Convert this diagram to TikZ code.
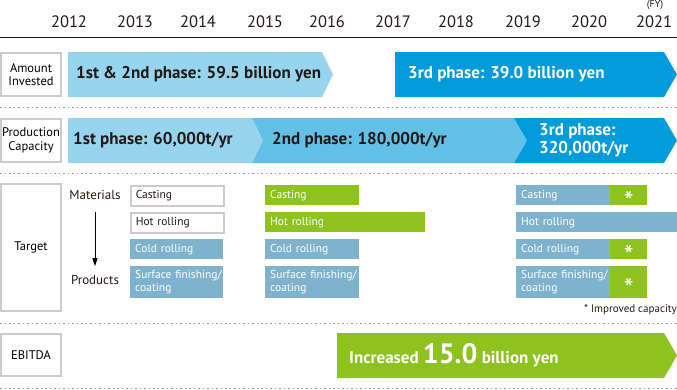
\documentclass[tikz,border=0pt]{standalone}
\usepackage{fontspec}
\setmainfont{PT Sans}
\usepackage{xcolor}
\usetikzlibrary{arrows.meta, positioning}
\definecolor{lightblue}{HTML}{97D5EF}
\definecolor{midblue}{HTML}{62C0E7}
\definecolor{darkblue}{HTML}{009BDB}
\definecolor{leafgreen}{HTML}{8DC21F}
\definecolor{steelblue}{HTML}{7FB3CD}
\definecolor{framegray}{HTML}{CCCCCC}
\definecolor{inkdark}{HTML}{231815}
\definecolor{dotgray}{HTML}{9A9A9A}
\tikzset{
  yearlabel/.style={font=\fontsize{16.5}{16.5}\selectfont, text=inkdark, inner sep=0pt},
  rowlabel/.style={rectangle, draw=framegray, line width=2.4pt, fill=white, align=center,
    minimum width=59.6pt, inner sep=0pt, font=\fontsize{12.5}{13.5}\selectfont, text=black},
  phasetext/.style={anchor=west, inner sep=0pt, align=left, font=\bfseries\fontsize{17}{18}\selectfont},
  sidelabel/.style={inner sep=0pt, font=\fontsize{13}{13}\selectfont, text=inkdark},
  cell/.style={rectangle, anchor=north west, inner xsep=5pt, inner ysep=0pt, align=left,
    font=\fontsize{11.5}{12.5}\selectfont},
  whitecell/.style={cell, draw=framegray, line width=1.6pt, fill=white, text=inkdark},
  bluecell/.style={cell, fill=steelblue, text=white},
  greencell/.style={cell, fill=leafgreen, text=white},
  starcell/.style={rectangle, anchor=north west, inner sep=0pt, fill=leafgreen, text=white,
    minimum width=37pt, font=\fontsize{28}{28}\selectfont},
  solidrule/.style={draw=inkdark, line width=1pt},
  dotrule/.style={draw=dotgray, line width=0.9pt, dash pattern=on 1.5pt off 3pt},
  downarrow/.style={-{Triangle[length=8pt, width=5pt]}, line width=1pt, black}
}
\newcommand{\surface}{\mbox{Surface finishing/}\\coating}
\newcommand{\improved}{\smash{\raisebox{-16.5pt}{*}}}

\begin{document}
\begin{tikzpicture}[x=1pt, y=-1pt]
  \useasboundingbox (0,0) rectangle (677,389);

  \node[yearlabel] (y2012) at (69,22) {2012};
  \node[yearlabel] (y2013) at (135,22) {2013};
  \node[yearlabel] (y2014) at (198,22) {2014};
  \node[yearlabel] (y2015) at (265,22) {2015};
  \node[yearlabel] (y2016) at (327,22) {2016};
  \node[yearlabel] (y2017) at (393,22) {2017};
  \node[yearlabel] (y2018) at (456,22) {2018};
  \node[yearlabel] (y2019) at (523,22) {2019};
  \node[yearlabel] (y2020) at (589,22) {2020};
  \node[yearlabel] (y2021) at (654,22) {2021};
  \node[yearlabel, font=\fontsize{10}{10}\selectfont] (fy) at (655,5) {(FY)};

  \draw[solidrule] (0,37) -- (677,37);
  \draw[dotrule] (0,107) -- (677,107);
  \draw[dotrule] (0,173) -- (677,173);
  \draw[dotrule] (0,323) -- (677,323);
  \draw[dotrule] (0,388) -- (677,388);

  % amount invested
  \node[rowlabel, minimum height=42.6pt] (amount) at (31,74.5) {Amount\\Invested};
  \fill[lightblue] (68,52) -- (322,52) -- (333,74.5) -- (322,97) -- (68,97) -- cycle;
  \fill[darkblue] (395,52) -- (664,52) -- (677,74.5) -- (664,97) -- (395,97) -- cycle;
  \node[phasetext, text=inkdark] (invone) at (76,74.5) {1st \& 2nd phase: 59.5 billion yen};
  \node[phasetext, text=white] (invthree) at (408,74.5) {3rd phase: 39.0 billion yen};

  % production capacity
  \node[rowlabel, minimum height=42.6pt] (capacity) at (31,140.5) {Production\\Capacity};
  \fill[lightblue] (68,118) -- (252,118) -- (263,140.5) -- (252,163) -- (68,163) -- cycle;
  \fill[midblue] (252,118) -- (514,118) -- (527,140.5) -- (514,163) -- (252,163) -- (263,140.5) -- cycle;
  \fill[darkblue] (514,118) -- (664,118) -- (677,140.5) -- (664,163) -- (514,163) -- (527,140.5) -- cycle;
  \node[phasetext, text=inkdark] (capone) at (73,140.5) {1st phase: 60,000t/yr};
  \node[phasetext, text=inkdark] (captwo) at (272,140.5) {2nd phase: 180,000t/yr};
  \node[phasetext, text=white] (capthree) at (539,140.5) {3rd phase:\\320,000t/yr};

  % target
  \node[rowlabel, minimum height=126.6pt] (target) at (31,247.5) {Target};
  \node[sidelabel] (mat) at (95,195) {Materials};
  \node[sidelabel] (prod) at (95,280) {Products};
  \draw[downarrow, shorten <=12pt, shorten >=9pt] (mat) -- (prod);

  \node[whitecell, text width=83pt, minimum height=20pt] (castone) at (130,185) {Casting};
  \node[whitecell, text width=83pt, minimum height=20pt] (hotone) at (130,212) {Hot rolling};
  \node[bluecell, text width=83pt, minimum height=20pt] (coldone) at (130,239) {Cold rolling};
  \node[bluecell, text width=83pt, minimum height=32pt] (surfone) at (130,266) {\surface};

  \node[greencell, text width=84pt, minimum height=20pt] (casttwo) at (265,185) {Casting};
  \node[greencell, text width=150pt, minimum height=20pt] (hottwo) at (265,212) {Hot rolling};
  \node[bluecell, text width=84pt, minimum height=20pt] (coldtwo) at (265,239) {Cold rolling};
  \node[bluecell, text width=84pt, minimum height=32pt] (surftwo) at (265,266) {\surface};

  \node[bluecell, text width=84pt, minimum height=20pt] (castthree) at (516,185) {Casting};
  \node[starcell, minimum height=20pt] (caststar) at (610,185) {\improved};
  \node[bluecell, text width=151pt, minimum height=20pt] (hotthree) at (516,212) {Hot rolling};
  \node[bluecell, text width=84pt, minimum height=20pt] (coldthree) at (516,239) {Cold rolling};
  \node[starcell, minimum height=20pt] (coldstar) at (610,239) {\improved};
  \node[bluecell, text width=84pt, minimum height=32pt] (surfthree) at (516,266) {\surface};
  \node[starcell, minimum height=32pt] (surfstar) at (610,266) {\improved};

  \node[sidelabel, anchor=east, font=\fontsize{11}{11}\selectfont] (note) at (677,310) {* Improved capacity};

  % ebitda
  \node[rowlabel, minimum height=41.6pt] (ebitda) at (31,355) {EBITDA};
  \fill[leafgreen] (337,333) -- (664,333) -- (677,355.5) -- (664,378) -- (337,378) -- cycle;
  \node[phasetext, text=white] (gain) at (349,355.5) {Increased {\fontsize{28}{28}\selectfont 15.0} billion yen};
\end{tikzpicture}
\end{document}
